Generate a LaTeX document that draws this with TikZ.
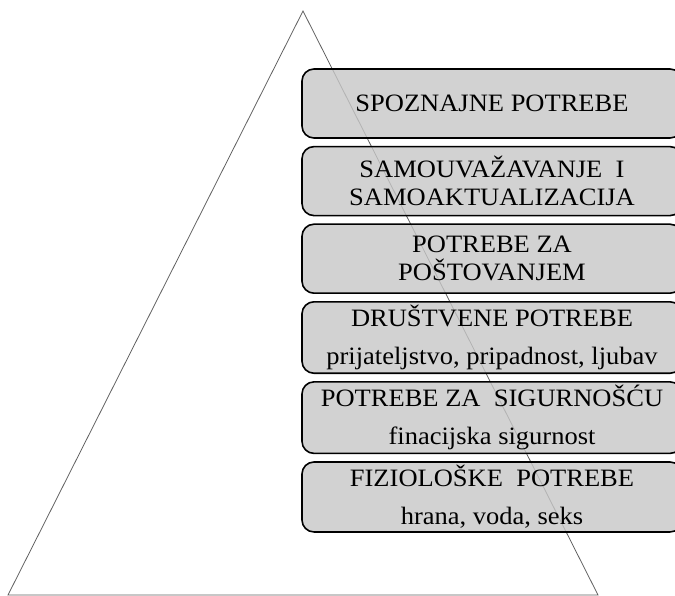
\documentclass[tikz,border=0pt]{standalone}
\usepackage{fontspec}
\setmainfont{Liberation Serif}[FakeStretch=1.06]
\usetikzlibrary{positioning}

\begin{document}
\begin{tikzpicture}[
    x=1pt, y=-1pt,
    node distance=7pt,
    level/.style={rectangle, rounded corners=12pt, draw=black, line width=1.6pt, fill=black!22, fill opacity=0.8, text opacity=1, minimum width=380pt, minimum height=69pt, text centered, align=center, font=\fontsize{25}{28}\selectfont},
    pyramid/.style={draw=black!62, line width=0.8pt}
]
\useasboundingbox (0,0) rectangle (675,596);
\clip (0,0) rectangle (675,596);

% Pyramid
\coordinate (apex) at (303,11);
\coordinate (baseleft) at (8,595);
\coordinate (baseright) at (598,595);
\draw[pyramid] (apex) -- (baseright) -- (baseleft) -- cycle;

% Levels
\node[level] (spoznajne) at (492,103.5) {SPOZNAJNE POTREBE};
\node[level, below=of spoznajne] (samo) {SAMOUVAŽAVANJE~ I\\SAMOAKTUALIZACIJA};
\node[level, below=of samo] (postovanje) {POTREBE ZA\\POŠTOVANJEM};
\node[level, below=of postovanje] (drustvene) {DRUŠTVENE POTREBE\\[10pt]prijateljstvo, pripadnost, ljubav};
\node[level, below=of drustvene] (sigurnost) {POTREBE ZA~ SIGURNOŠĆU\\[10pt]finacijska sigurnost};
\node[level, below=of sigurnost] (fizioloske) {FIZIOLOŠKE~ POTREBE\\[10pt]hrana, voda, seks};

\end{tikzpicture}
\end{document}
